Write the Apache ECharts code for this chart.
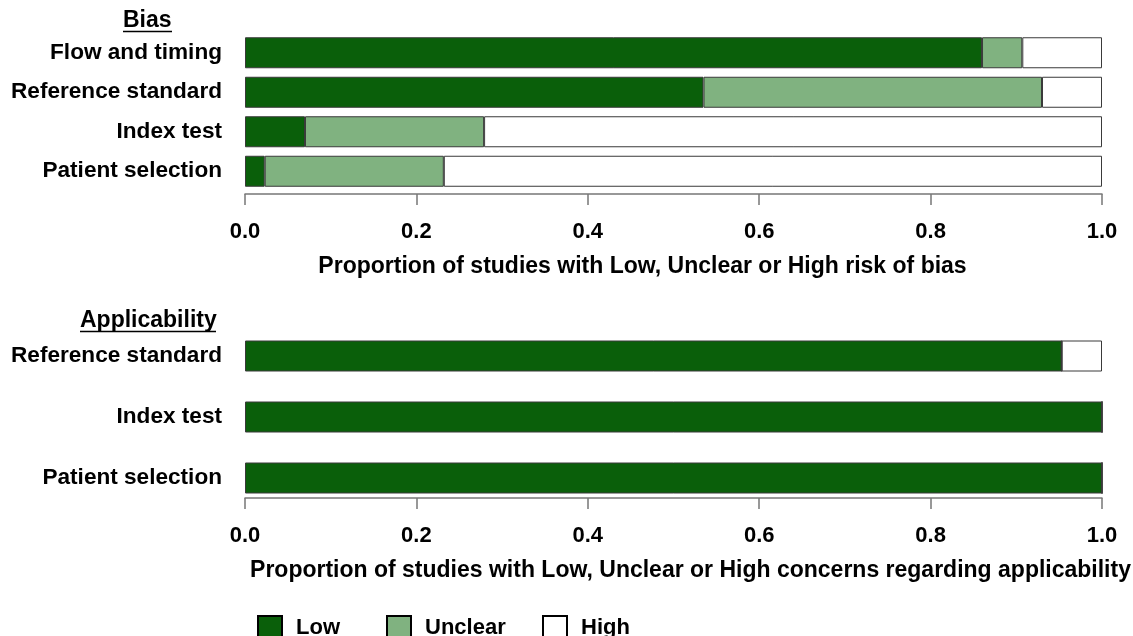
<!DOCTYPE html>
<html>
<head>
<meta charset="utf-8">
<script src="https://cdn.jsdelivr.net/npm/echarts@6/dist/echarts.min.js"></script>
<style>
html,body{margin:0;padding:0;background:#fff;}
#chart{width:1133px;height:636px;}
</style>
</head>
<body>
<div id="chart"></div>
<script>
// Categories (top to bottom)
const biasCategories = ['Flow and timing', 'Reference standard', 'Index test', 'Patient selection'];
const applicabilityCategories = ['Reference standard', 'Index test', 'Patient selection'];

// Proportions
const biasLow = [0.860, 0.535, 0.070, 0.023];
const biasUnclear = [0.047, 0.395, 0.209, 0.209];
const biasHigh = [0.093, 0.070, 0.721, 0.768];

const applicabilityLow = [0.953, 1.0, 1.0];
const applicabilityUnclear = [0, 0, 0];
const applicabilityHigh = [0.047, 0, 0];

const xTicks = [0, 0.2, 0.4, 0.6, 0.8, 1.0];
const legendNames = ['Low', 'Unclear', 'High'];

const colorLow = '#0a5f0a';
const colorUnclear = '#80b280';
const colorHigh = '#ffffff';
const FONT = '"Liberation Sans", Arial, Helvetica, sans-serif';

const barBorder = { borderColor: '#3a3a3a', borderWidth: 1 };

function xAxisCfg(gridIndex, name, offset, namePadding) {
  return {
    type: 'value', gridIndex: gridIndex, min: xTicks[0], max: xTicks[xTicks.length - 1], interval: 0.2,
    offset: offset,
    name: name, nameLocation: 'middle', nameGap: 61,
    nameTextStyle: { fontFamily: FONT, fontWeight: 'bold', fontSize: 23, color: '#000', padding: namePadding },
    axisLine: { show: true, lineStyle: { color: '#777', width: 1.5 } },
    axisTick: { show: true, length: 11, inside: false, lineStyle: { color: '#777', width: 1.5 } },
    splitLine: { show: false },
    axisLabel: { margin: 27, fontFamily: FONT, fontWeight: 'bold', fontSize: 22, color: '#000',
      formatter: v => v.toFixed(1) }
  };
}
function yAxisCfg(gridIndex, cats) {
  return {
    type: 'category', gridIndex: gridIndex, data: cats, inverse: true,
    axisLine: { show: false }, axisTick: { show: false },
    axisLabel: { margin: 23, fontFamily: FONT, fontWeight: 'bold', fontSize: 22.6, color: '#000' }
  };
}
function barSeries(name, data, color, xi, stack) {
  return {
    name: name, type: 'bar', stack: stack, xAxisIndex: xi, yAxisIndex: xi, data: data,
    barWidth: 31, itemStyle: Object.assign({ color: color }, barBorder),
    emphasis: { disabled: true }, animation: false
  };
}
function legendCfg(name, left) {
  return {
    data: [name], left: left, top: 610, orient: 'horizontal', icon: 'rect',
    itemWidth: 24, itemHeight: 24, selectedMode: false,
    itemStyle: { borderColor: '#000', borderWidth: 2 },
    textStyle: { fontFamily: FONT, fontWeight: 'bold', fontSize: 22, color: '#000', padding: [0, 0, 0, 9] }
  };
}

const chart = echarts.init(document.getElementById('chart'), null, { renderer: 'canvas' });
chart.setOption({
  backgroundColor: '#fff',
  animation: false,
  grid: [
    { left: 245, width: 857, top: 33, height: 158 },
    { left: 245, width: 857, top: 325.5, height: 183 }
  ],
  xAxis: [
    xAxisCfg(0, 'Proportion of studies with Low, Unclear or High risk of bias', 3, [0, 62, 0, 0]),
    xAxisCfg(1, 'Proportion of studies with Low, Unclear or High concerns regarding applicability', -10.5, [0, 0, 0, 34])
  ],
  yAxis: [yAxisCfg(0, biasCategories), yAxisCfg(1, applicabilityCategories)],
  legend: [legendCfg(legendNames[0], 252), legendCfg(legendNames[1], 381), legendCfg(legendNames[2], 537)],
  series: [
    barSeries(legendNames[0], biasLow, colorLow, 0, 'bias'),
    barSeries(legendNames[1], biasUnclear, colorUnclear, 0, 'bias'),
    barSeries(legendNames[2], biasHigh, colorHigh, 0, 'bias'),
    barSeries(legendNames[0], applicabilityLow, colorLow, 1, 'app'),
    barSeries(legendNames[1], applicabilityUnclear, colorUnclear, 1, 'app'),
    barSeries(legendNames[2], applicabilityHigh, colorHigh, 1, 'app')
  ],
  graphic: [
    { type: 'text', left: 123, top: 9, style: { text: 'Bias', fontFamily: FONT, fontWeight: 'bold', fontSize: 23, fill: '#000' } },
    { type: 'line', shape: { x1: 123, y1: 31.5, x2: 172, y2: 31.5 }, style: { stroke: '#000', lineWidth: 1.5 } },
    { type: 'text', left: 80, top: 309, style: { text: 'Applicability', fontFamily: FONT, fontWeight: 'bold', fontSize: 23, fill: '#000' } },
    { type: 'line', shape: { x1: 80, y1: 331.5, x2: 216, y2: 331.5 }, style: { stroke: '#000', lineWidth: 1.5 } }
  ]
});
</script>
</body>
</html>
